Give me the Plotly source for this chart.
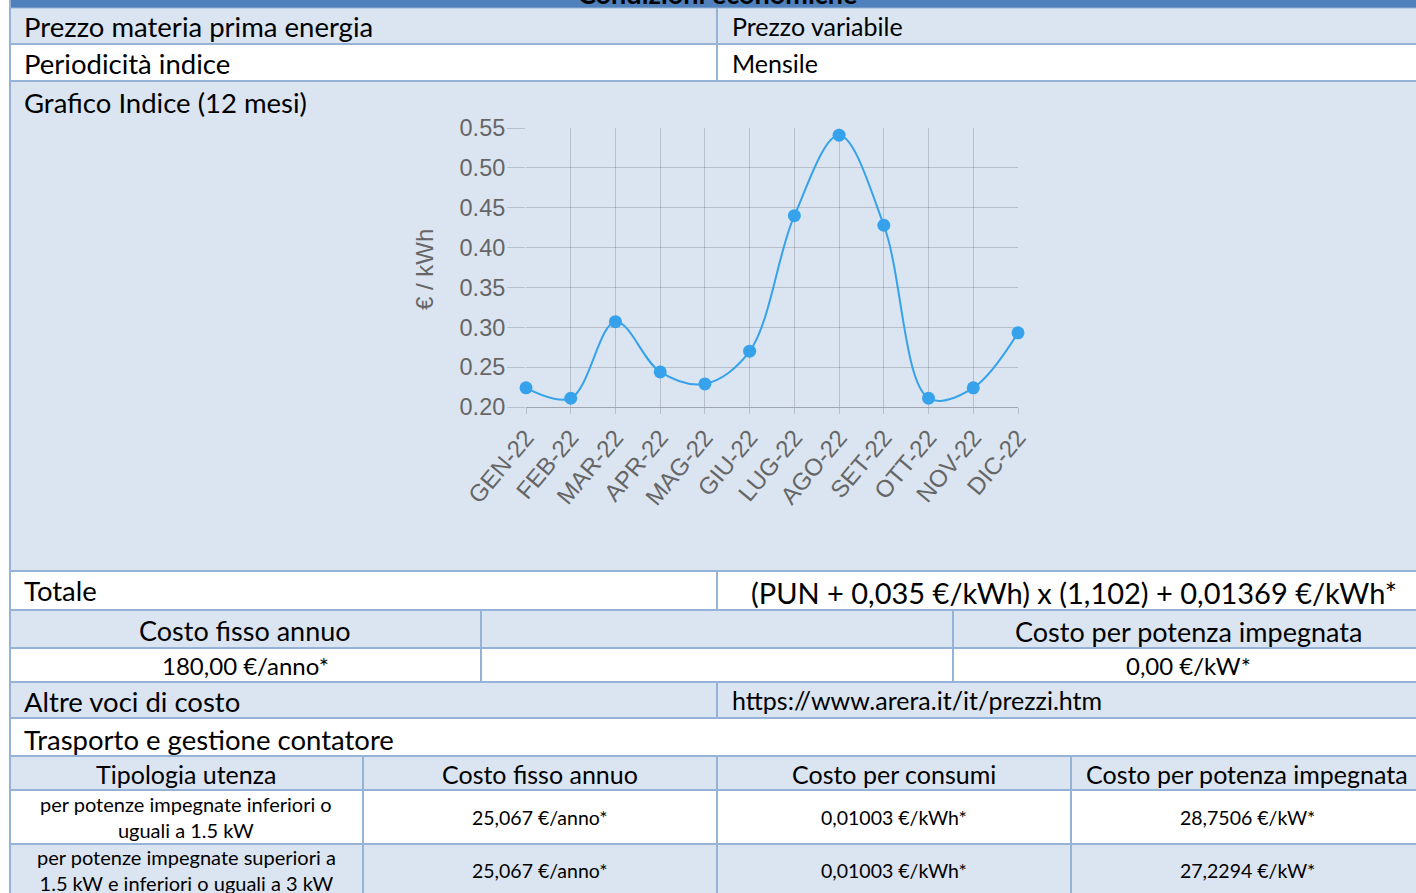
import plotly.graph_objects as go

W, H = 1416, 893

# ---- data ----
months = ["GEN-22", "FEB-22", "MAR-22", "APR-22", "MAG-22", "GIU-22",
          "LUG-22", "AGO-22", "SET-22", "OTT-22", "NOV-22", "DIC-22"]
pun = [0.224, 0.211, 0.307, 0.244, 0.229, 0.270,
       0.440, 0.541, 0.428, 0.211, 0.224, 0.293]
y_ticks = [0.20, 0.25, 0.30, 0.35, 0.40, 0.45, 0.50, 0.55]

header_title = "Condizioni economiche"
row_labels = ["Prezzo materia prima energia", "Periodicità indice", "Grafico Indice (12 mesi)",
              "Totale", "Altre voci di costo", "Trasporto e gestione contatore"]
row_values = ["Prezzo variabile", "Mensile", "", "(PUN + 0,035 €/kWh) x (1,102) + 0,01369 €/kWh*",
              "https://www.arera.it/it/prezzi.htm"]
fixed_headers = ["Costo fisso annuo", "Costo per potenza impegnata"]
fixed_values = ["180,00 €/anno*", "0,00 €/kW*"]
transport_headers = ["Tipologia utenza", "Costo fisso annuo", "Costo per consumi", "Costo per potenza impegnata"]
transport_rows = [
    ["per potenze impegnate inferiori o<br>uguali a 1.5 kW", "25,067 €/anno*", "0,01003 €/kWh*", "28,7506 €/kW*"],
    ["per potenze impegnate superiori a<br>1.5 kW e inferiori o uguali a 3 kW", "25,067 €/anno*", "0,01003 €/kWh*", "27,2294 €/kW*"],
]

# ---- style ----
LIGHT = "#dbe5f1"
WHITE = "#ffffff"
BLUE = "#4f81bd"
BORDER = "#95b3d7"
TXT = "#000000"
FONT = "Lato, Carlito, Calibri, sans-serif"
CHART_FONT = "Liberation Sans, Arial, sans-serif"
LINE_BLUE = "#36a2eb"


def px(x):
    return x / W


def py(y):
    return 1 - y / H


shapes = []
annotations = []


def rect(x0, y0, x1, y1, fill):
    shapes.append(dict(type="rect", xref="paper", yref="paper", x0=px(x0), x1=px(x1),
                       y0=py(y1), y1=py(y0), fillcolor=fill, line=dict(width=0), layer="below"))


def line(x0, y0, x1, y1, color=BORDER, width=2):
    shapes.append(dict(type="line", xref="paper", yref="paper", x0=px(x0), x1=px(x1),
                       y0=py(y0), y1=py(y1), line=dict(color=color, width=width), layer="below"))


def text(t, x, y, size, anchor="left", color=TXT, bold=False, family=FONT, angle=0):
    if bold:
        t = "<b>" + t + "</b>"
    annotations.append(dict(text=t, xref="paper", yref="paper", x=px(x), y=py(y),
                            xanchor=anchor, yanchor="middle", showarrow=False, textangle=angle,
                            font=dict(family=family, size=size, color=color)))


L, R = 10, 1416
# rows: (top, bottom, fill)
rows = [(0, 8, BLUE), (8, 44, LIGHT), (44, 81, WHITE), (81, 571, LIGHT), (571, 610, WHITE),
        (610, 648, LIGHT), (648, 682, WHITE), (682, 718, LIGHT), (718, 756, WHITE),
        (756, 790, LIGHT), (790, 844, WHITE), (844, 893, LIGHT)]
for t, b, f in rows:
    rect(L, t, R, b, f)

for yb in [44, 81, 571, 610, 648, 682, 718, 756, 790, 844]:
    line(L, yb, R, yb)
line(L, 8, R, 8, color=BORDER, width=1)
line(L, 0, L, 893)
line(717, 8, 717, 81)
line(717, 571, 717, 610)
line(717, 682, 717, 718)
for xv in [481, 953]:
    line(xv, 610, xv, 682)
for xv in [363, 717, 1071]:
    line(xv, 756, xv, 893)

# header title (mostly cut off at the top, as in the source)
annotations.append(dict(text="<b>" + header_title + "</b>", xref="paper", yref="paper",
                        x=px(718), y=py(-6), xanchor="center", yanchor="middle", showarrow=False,
                        font=dict(family=FONT, size=27, color="#000000")))

MAIN = 27.5
LX, RX = 22, 730
text(row_labels[0], LX, 27, MAIN)
text(row_values[0], RX, 26, 25)
text(row_labels[1], LX, 63, MAIN)
text(row_values[1], RX, 63, 25)
text(row_labels[2], LX, 102, MAIN)
text(row_labels[3], LX, 590, MAIN)
text(row_values[3], 1074, 592, 29, anchor="center")
text(fixed_headers[0], 245, 630, 27, anchor="center")
text(fixed_headers[1], 1188, 631, 27, anchor="center")
text(fixed_values[0], 245, 665, 24, anchor="center")
text(fixed_values[1], 1188, 665, 24, anchor="center")
text(row_labels[4], LX, 701, MAIN)
text(row_values[4], RX, 700, 25)
text(row_labels[5], LX, 739, MAIN)

col_centers = [186, 540, 894, 1247]
for c, h in zip(col_centers, transport_headers):
    text(h, c, 774, 25, anchor="center")
for r, yc in zip(transport_rows, [817, 870]):
    text(r[0], col_centers[0], yc, 20, anchor="center")
    for c, v in zip(col_centers[1:], r[1:]):
        text(v, c, yc, 19.5, anchor="center")

# y-axis title of chart
text("€ / kWh", 425, 270, 24, anchor="center", color="#666666", family=CHART_FONT, angle=-90)

fig = go.Figure()
fig.add_trace(go.Scatter(
    x=list(range(len(months))), y=pun, mode="lines+markers",
    line=dict(color=LINE_BLUE, width=2, shape="spline", smoothing=1.0),
    marker=dict(color=LINE_BLUE, size=13, line=dict(color=LINE_BLUE, width=0)),
    cliponaxis=False, showlegend=False,
))

GRID = "rgba(0,0,0,0.16)"
fig.update_layout(
    width=W, height=H, margin=dict(l=0, r=0, t=0, b=0, pad=0, autoexpand=False),
    paper_bgcolor=WHITE, plot_bgcolor="rgba(0,0,0,0)",
    shapes=shapes, annotations=annotations,
    xaxis=dict(domain=[px(526), px(1018)], range=[0, 11], tickmode="array",
               tickvals=list(range(len(months))), ticktext=months, tickangle=-50,
               showgrid=True, gridcolor=GRID, gridwidth=1, ticks="outside", ticklen=6,
               tickcolor=GRID, showline=True, linecolor="rgba(0,0,0,0.28)", linewidth=1,
               zeroline=False, fixedrange=True, automargin=False,
               tickfont=dict(family=CHART_FONT, size=24, color="#666666")),
    yaxis=dict(domain=[py(407), py(128)], range=[0.20, 0.55], tickmode="array",
               tickvals=y_ticks, ticktext=[f"{v:.2f}" for v in y_ticks],
               showgrid=True, gridcolor=GRID, gridwidth=1, ticks="outside", ticklen=18,
               tickcolor=GRID, showline=False, zeroline=False, fixedrange=True, automargin=False,
               ticklabelstandoff=-3,
               tickfont=dict(family=CHART_FONT, size=23.5, color="#666666")),
)

fig.write_html("out.html", config={"displayModeBar": False},
               post_script="document.body.style.margin='0';document.body.style.overflow='hidden';")
